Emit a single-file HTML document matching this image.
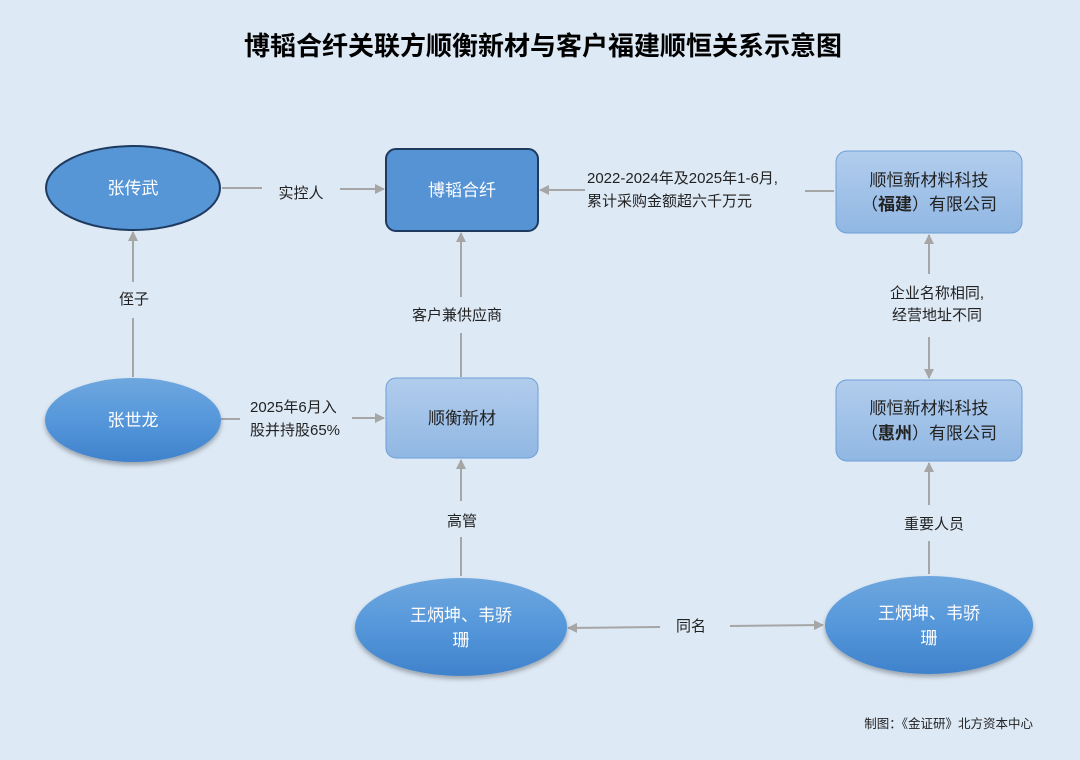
<!DOCTYPE html>
<html><head><meta charset="utf-8"><style>
html,body{margin:0;padding:0;background:#dde9f5;}
svg{display:block;font-family:"Liberation Sans","Noto Sans CJK SC",sans-serif;}
</style></head><body>
<svg width="1080" height="760" viewBox="0 0 1080 760" xmlns="http://www.w3.org/2000/svg">
<defs>
<linearGradient id="lb" x1="0" y1="0" x2="0" y2="1"><stop offset="0" stop-color="#b2cded"/><stop offset="1" stop-color="#90b7e3"/></linearGradient>
<linearGradient id="el" x1="0" y1="0" x2="0" y2="1"><stop offset="0" stop-color="#6ea7df"/><stop offset="0.5" stop-color="#5597da"/><stop offset="1" stop-color="#3f82cc"/></linearGradient>
<filter id="sh" x="-20%" y="-20%" width="140%" height="150%"><feDropShadow dx="0" dy="3" stdDeviation="2.5" flood-color="#000" flood-opacity="0.3"/></filter>
<marker id="ar" markerWidth="10" markerHeight="10" refX="9" refY="5" orient="auto" markerUnits="userSpaceOnUse"><path d="M0,0 L10,5 L0,10 Z" fill="#a6a6a6"/></marker>
</defs>
<rect width="1080" height="760" fill="#dde9f5"/>
<text x="543" y="55" text-anchor="middle" font-size="26" font-weight="bold" fill="#000">博韬合纤关联方顺衡新材与客户福建顺恒关系示意图</text>

<g stroke="#a6a6a6" stroke-width="2" fill="none">
<path d="M222,188 L262,188"/><path d="M340,189 L384,189" marker-end="url(#ar)"/>
<path d="M834,191 L805,191"/><path d="M585,190 L540,190" marker-end="url(#ar)"/>
<path d="M133,377 L133,318"/><path d="M133,282 L133,232" marker-end="url(#ar)"/>
<path d="M461,377 L461,333"/><path d="M461,297 L461,233" marker-end="url(#ar)"/>
<path d="M929,274 L929,235" marker-end="url(#ar)"/><path d="M929,337 L929,378" marker-end="url(#ar)"/>
<path d="M221,419 L240,419"/><path d="M352,418 L384,418" marker-end="url(#ar)"/>
<path d="M461,576 L461,537"/><path d="M461,501 L461,460" marker-end="url(#ar)"/>
<path d="M929,574 L929,541"/><path d="M929,505 L929,463" marker-end="url(#ar)"/>
<path d="M660,627 L568,628" marker-end="url(#ar)"/><path d="M730,626 L823,625" marker-end="url(#ar)"/>
</g>

<ellipse cx="133" cy="188" rx="87" ry="42" fill="#5696d6" stroke="#1f3a5f" stroke-width="2"/>
<text x="133" y="194" text-anchor="middle" font-size="17" fill="#fff">张传武</text>

<rect x="386" y="149" width="152" height="82" rx="10" fill="#5593d4" stroke="#1f3a5f" stroke-width="2"/>
<text x="462" y="196" text-anchor="middle" font-size="17" fill="#fff">博韬合纤</text>

<rect x="836" y="151" width="186" height="82" rx="11" fill="url(#lb)" stroke="#6d9fd6" stroke-width="1"/>
<text x="929" y="186" text-anchor="middle" font-size="17" fill="#222">顺恒新材料科技</text>
<text x="929" y="210" text-anchor="middle" font-size="17" fill="#222">（<tspan font-weight="bold">福建</tspan>）有限公司</text>

<ellipse cx="133" cy="420" rx="88" ry="42" fill="url(#el)" filter="url(#sh)"/>
<text x="133" y="426" text-anchor="middle" font-size="17" fill="#fff">张世龙</text>

<rect x="386" y="378" width="152" height="80" rx="10" fill="url(#lb)" stroke="#6d9fd6" stroke-width="1"/>
<text x="462" y="424" text-anchor="middle" font-size="17" fill="#222">顺衡新材</text>

<rect x="836" y="380" width="186" height="81" rx="11" fill="url(#lb)" stroke="#6d9fd6" stroke-width="1"/>
<text x="929" y="414" text-anchor="middle" font-size="17" fill="#222">顺恒新材料科技</text>
<text x="929" y="439" text-anchor="middle" font-size="17" fill="#222">（<tspan font-weight="bold">惠州</tspan>）有限公司</text>

<ellipse cx="461" cy="627" rx="106" ry="49" fill="url(#el)" filter="url(#sh)"/>
<text x="461" y="621" text-anchor="middle" font-size="17" fill="#fff">王炳坤、韦骄</text>
<text x="461" y="646" text-anchor="middle" font-size="17" fill="#fff">珊</text>
<ellipse cx="929" cy="625" rx="104" ry="49" fill="url(#el)" filter="url(#sh)"/>
<text x="929" y="619" text-anchor="middle" font-size="17" fill="#fff">王炳坤、韦骄</text>
<text x="929" y="644" text-anchor="middle" font-size="17" fill="#fff">珊</text>

<g font-size="15" fill="#222">
<text x="301" y="198" text-anchor="middle">实控人</text>
<text x="587" y="183">2022-2024年及2025年1-6月,</text>
<text x="587" y="206">累计采购金额超六千万元</text>
<text x="134" y="304" text-anchor="middle">侄子</text>
<text x="457" y="320" text-anchor="middle">客户兼供应商</text>
<text x="937" y="298" text-anchor="middle">企业名称相同,</text>
<text x="937" y="320" text-anchor="middle">经营地址不同</text>
<text x="250" y="412">2025年6月入</text>
<text x="250" y="435">股并持股65%</text>
<text x="462" y="526" text-anchor="middle">高管</text>
<text x="934" y="529" text-anchor="middle">重要人员</text>
<text x="691" y="631" text-anchor="middle">同名</text>
</g>
<text x="1033" y="728" text-anchor="end" font-size="12.5" fill="#222">制图：《金证研》北方资本中心</text>
</svg>
</body></html>
